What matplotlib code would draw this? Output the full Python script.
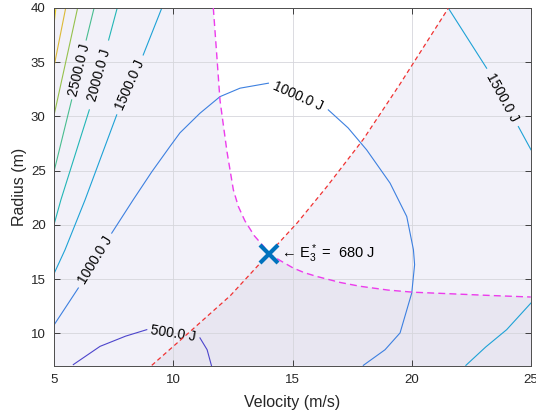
"""
Energy contours over velocity / turn radius with the two constraint curves.
"""

#%% -------- IMPORTS --------
import numpy as np
import matplotlib
matplotlib.use("Agg")
import matplotlib.pyplot as plt

plt.rcParams['font.family'] = ['Liberation Sans', 'DejaVu Sans']
plt.rcParams['mathtext.fontset'] = 'custom'
plt.rcParams['mathtext.rm'] = 'Liberation Sans'
plt.rcParams['mathtext.it'] = 'Liberation Sans:italic'

nan = np.nan

#%% -------- DATA ---------------------------------

# energy contours, nan = gap where the inline label sits
c500_v = [5.81, 6.93, 8.00, 8.89, nan, 11.12, 11.42, 11.61]
c500_r = [7.13, 8.81, 9.75, 10.35, nan, 9.59, 8.50, 6.97]

c1000_v = [5.01, 6.02, nan, 7.42, 8.32, 9.10, 9.86, 10.28, 11.12, 11.96, 12.80, 13.99, nan,
           16.50, 17.33, 18.11, 19.09, 19.79, 20.07, 20.12, 20.00, 19.51, 18.88, 17.97]
c1000_r = [10.81, 14.19, nan, 19.25, 22.32, 24.90, 27.23, 28.49, 30.30, 31.83, 32.61, 33.07, nan,
           30.61, 28.95, 26.92, 23.86, 20.78, 17.72, 16.34, 13.73, 10.05, 8.50, 7.06]

c1500a_v = [9.52, 8.74, nan, 7.63, 6.30, 5.46, 5.02]
c1500a_r = [40.0, 35.67, nan, 30.15, 22.30, 17.70, 15.60]

c1500b_v = [21.53, 23.14, nan, 24.47, 25.0]
c1500b_r = [40.0, 34.45, nan, 29.07, 26.93]

c1500c_v = [22.27, 23.10, 23.98, 25.0]
c1500c_r = [7.06, 8.75, 10.35, 12.81]

c2000_v = [7.65, 7.29, nan, 6.48, 5.29, 5.01]
c2000_r = [40.0, 37.05, nan, 30.61, 22.32, 20.11]

c2500_v = [6.68, 6.35, nan, 5.74, 5.02]
c2500_r = [40.0, 37.05, nan, 31.53, 25.10]

c3000_v = [5.99, 5.0]
c3000_r = [40.0, 30.1]

c3500_v = [5.49, 5.0]
c3500_r = [40.0, 34.6]

c4000_v = [5.08, 5.0]
c4000_r = [40.0, 38.5]

# constraint curves
red_v = [9.10, 10.77, 12.40, 14.01, 15.20, 16.43, 17.97, 19.51, 21.53]
red_r = [7.06, 10.30, 13.50, 17.35, 20.20, 23.50, 27.90, 33.00, 39.97]

mag_v = [11.68, 11.82, 11.96, 12.25, 12.52, 12.73, 13.00, 13.40, 13.80, 14.01, 14.50,
         15.03, 15.50, 16.01, 17.00, 17.83, 19.00, 20.07, 21.60, 23.30, 24.99]
mag_r = [40.0, 35.80, 31.50, 26.80, 23.24, 21.70, 20.40, 19.00, 18.00, 17.35, 16.70,
         16.03, 15.60, 15.26, 14.70, 14.35, 14.00, 13.80, 13.66, 13.50, 13.36]

# optimum
v_star = 14.01
r_star = 17.35
e_star = 680

#%% -------- PLOT --------

fig = plt.figure(figsize=(5.36, 4.19), dpi=100)
ax = fig.add_axes([54/536, 1 - 366/419, 477/536, 358/419])
ax.set_xlim(5, 25)
ax.set_ylim(7, 40)
ax.set_facecolor('#f2f1f9')

rv, rr = np.array(red_v), np.array(red_r)
mv, mr = np.array(mag_v), np.array(mag_r)

# white (both constraints satisfied) region
wv = np.concatenate([mv[mv <= v_star], rv[rv > v_star]])
wr = np.concatenate([mr[mv <= v_star], rr[rv > v_star]])
ax.fill(wv, wr, color='white', lw=0, zorder=0.5)

# darker region below the magenta curve, right of the red one
dv = np.concatenate([rv[rv <= v_star], mv[mv > v_star], [25]])
dr = np.concatenate([rr[rv <= v_star], mr[mv > v_star], [7]])
ax.fill(dv, dr, color='#e8e6f1', lw=0, zorder=0.5)

ax.grid(True, color='#d6d6dc', lw=0.6, zorder=0.8)
ax.set_axisbelow(True)

contours = [
    (c500_v, c500_r, '#4d45cc', '500.0 J'),
    (c1000_v, c1000_r, '#3d80e0', '1000.0 J'),
    (c1500a_v, c1500a_r, '#1ea2d6', '1500.0 J'),
    (c1500b_v, c1500b_r, '#1ea2d6', '1500.0 J'),
    (c1500c_v, c1500c_r, '#1ea2d6', None),
    (c2000_v, c2000_r, '#22b6b6', '2000.0 J'),
    (c2500_v, c2500_r, '#48bd90', '2500.0 J'),
    (c3000_v, c3000_r, '#95c14c', None),
    (c3500_v, c3500_r, '#dcba36', None),
    (c4000_v, c4000_r, '#f0d628', None),
]

for vs, rs, col, lab in contours:
    ax.plot(vs, rs, color=col, lw=0.8, zorder=2)
    if lab is None:
        continue
    pts = ax.transData.transform(np.column_stack([vs, rs]))
    gaps = [i for i, v in enumerate(vs) if np.isnan(v)]
    for g in gaps:
        a, b = pts[g - 1], pts[g + 1]
        ang = np.degrees(np.arctan2(b[1] - a[1], b[0] - a[0]))
        if ang > 90:
            ang -= 180
        elif ang < -90:
            ang += 180
        cx = (vs[g - 1] + vs[g + 1]) / 2
        cy = (rs[g - 1] + rs[g + 1]) / 2
        ax.text(cx, cy, lab, rotation=ang, rotation_mode='anchor',
                ha='center', va='center', fontsize=10, color='black', zorder=3)

ax.plot(red_v, red_r, color='#f03232', lw=0.9, ls=(0, (3.5, 2.5)), zorder=4)
ax.plot(mag_v, mag_r, color='#ec3cec', lw=1.0, ls=(0, (5, 3)), zorder=4)

ax.plot(v_star, r_star, marker='x', ms=13, mew=3, color='#0072bd', zorder=5)
ax.text(v_star + 0.50, r_star, r'← $\mathrm{E}_3^*$ =  ' + f'{e_star} J',
        va='center', ha='left', fontsize=10.5, zorder=5)

ax.set_xticks([5, 10, 15, 20, 25])
ax.set_yticks([10, 15, 20, 25, 30, 35, 40])
ax.tick_params(direction='in', length=4, width=0.6, top=True, right=True,
               labelsize=9.5, colors='#262626', pad=6)
for s in ax.spines.values():
    s.set_color('#4d4d4d')
    s.set_linewidth(0.7)

ax.set_xlabel('Velocity (m/s)', fontsize=11.5, color='#262626', labelpad=6)
ax.set_ylabel('Radius (m)', fontsize=11.5, color='#262626', labelpad=3)

fig.savefig('out.png', dpi=100)
